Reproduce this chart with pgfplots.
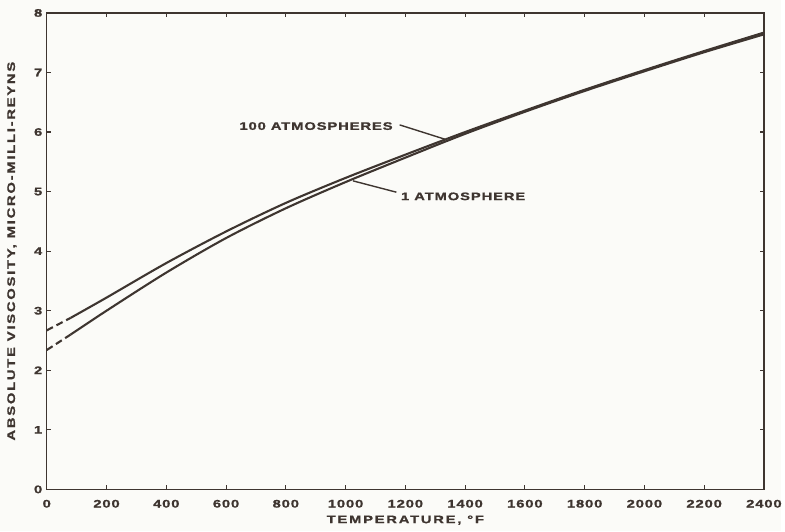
\documentclass[border=0pt]{standalone}
\usepackage{fontspec}
\setmainfont{Liberation Sans}
\newfontfamily\lettering[FakeStretch=1.35,LetterSpace=8,FakeBold=1.2]{Liberation Sans}
\newfontfamily\labelfont[FakeStretch=1.35,LetterSpace=16,FakeBold=1.2]{Liberation Sans}
\usepackage{pgfplots}
\pgfplotsset{compat=1.18}
\definecolor{ink}{HTML}{3E3530}
\definecolor{paper}{HTML}{FBFBF8}
\pgfplotstableread{
T V
80 2.88
200 3.22
400 3.80
600 4.33
800 4.81
1000 5.23
1200 5.62
1400 6.00
1600 6.36
1800 6.71
2000 7.04
2200 7.36
2400 7.67
}\hundredatm
\pgfplotstableread{
T V
80 2.60
200 3.00
400 3.64
600 4.22
800 4.72
1000 5.16
1200 5.57
1400 5.97
1600 6.34
1800 6.69
2000 7.02
2200 7.34
2400 7.64
}\oneatm
\begin{document}
\begin{tikzpicture}
\fill[paper] (-47pt,-42pt) rectangle (738pt,492pt);
\begin{axis}[
  scale only axis, width=721pt, height=479pt,
  xmin=0, xmax=2400, ymin=0, ymax=8,
  xtick={0,200,...,2400}, ytick={0,1,...,8},
  tick align=inside, major tick length=4pt,
  axis line style={ink, line width=1.4pt},
  every tick/.style={ink, line width=1.1pt},
  tick label style={font=\lettering\bfseries\fontsize{11}{12}\selectfont, text=ink},
  /pgf/number format/assume math mode=true,
  /pgf/number format/set thousands separator={},
  xticklabel style={yshift=-7pt},
  yticklabel style={xshift=-1pt},
  xlabel={TEMPERATURE, °F},
  ylabel={ABSOLUTE VISCOSITY, MICRO-MILLI-REYNS},
  label style={font=\labelfont\bfseries\fontsize{11}{12}\selectfont, text=ink},
  xlabel style={at={(axis description cs:0.5,-0.0647)}, anchor=center},
  ylabel style={at={(axis description cs:-0.0485,0.5)}, anchor=center},
]
\addplot[ink, line width=2.1pt, smooth] table[x=T,y=V] {\hundredatm};
\addplot[ink, line width=2.1pt, smooth] table[x=T,y=V] {\oneatm};
\addplot[ink, line width=2.1pt, dash pattern=on 7pt off 4pt] coordinates {(0,2.67) (80,2.88)};
\addplot[ink, line width=2.1pt, dash pattern=on 7pt off 4pt] coordinates {(0,2.34) (80,2.60)};
\node[anchor=east, inner sep=0pt, text=ink, font=\lettering\bfseries\fontsize{11}{12}\selectfont] at (axis cs:1158,6.10) {100 ATMOSPHERES};
\draw[ink, line width=1.4pt] (axis cs:1181,6.12) -- (axis cs:1332,5.88);
\node[anchor=west, inner sep=0pt, text=ink, font=\lettering\bfseries\fontsize{11}{12}\selectfont] at (axis cs:1185,4.92) {1 ATMOSPHERE};
\draw[ink, line width=1.4pt] (axis cs:1170,4.99) -- (axis cs:1025,5.18);
\end{axis}
\end{tikzpicture}
\end{document}
